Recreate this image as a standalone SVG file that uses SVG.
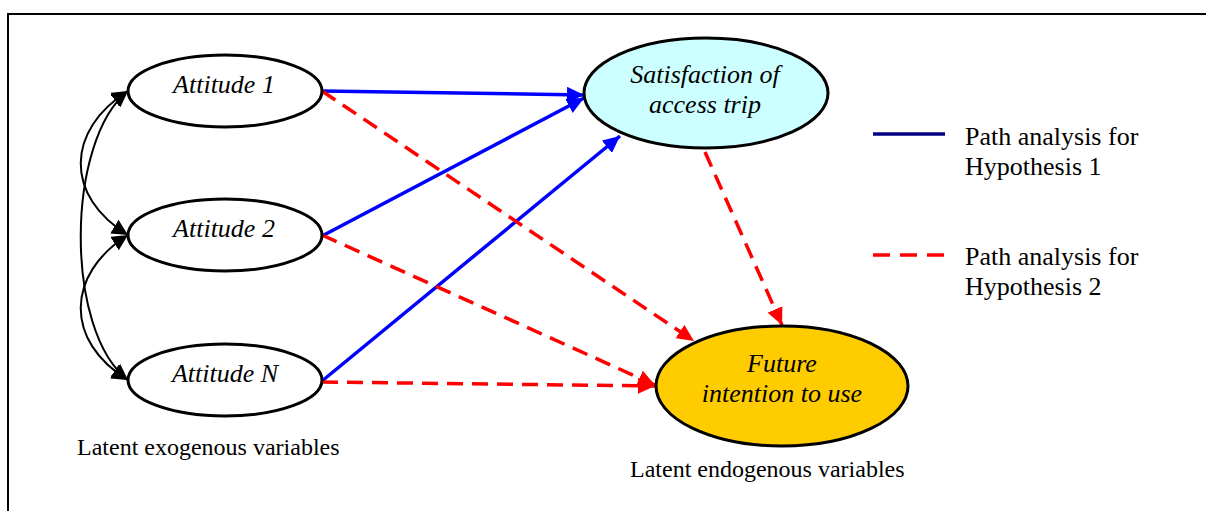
<svg xmlns="http://www.w3.org/2000/svg" width="1206" height="511" viewBox="0 0 1206 511">
  <style>
    .node { stroke: #000; stroke-width: 3; }
    .nlabel { font-family: "Liberation Serif", "Times New Roman", serif; font-style: italic; font-size: 26px; fill: #000; text-anchor: middle; }
    .cap { font-family: "Liberation Serif", "Times New Roman", serif; font-size: 24px; fill: #000; }
    .legend { font-family: "Liberation Serif", "Times New Roman", serif; font-size: 26px; fill: #000; }
    .h1 { fill: none; stroke: #0000FF; stroke-width: 3.5; marker-end: url(#arrowBlue); }
    .h2 { fill: none; stroke: #FF0000; stroke-width: 3.5; stroke-dasharray: 16 9; marker-end: url(#arrowRed); }
    .cov { fill: none; stroke: #000; stroke-width: 2; marker-start: url(#arrowBlack); marker-end: url(#arrowBlack); }
  </style>
  <defs>
    <marker id="arrowBlue" markerUnits="userSpaceOnUse" markerWidth="18" markerHeight="16" refX="17" refY="8" orient="auto">
      <path d="M0,0 L17,8 L0,16 z" fill="#0000FF"/>
    </marker>
    <marker id="arrowRed" markerUnits="userSpaceOnUse" markerWidth="18" markerHeight="16" refX="17" refY="8" orient="auto">
      <path d="M0,0 L17,8 L0,16 z" fill="#FF0000"/>
    </marker>
    <marker id="arrowBlack" markerUnits="userSpaceOnUse" markerWidth="17" markerHeight="16" refX="16" refY="8" orient="auto-start-reverse">
      <path d="M0,0 L16,8 L0,16 z" fill="#000"/>
    </marker>
  </defs>

  <rect width="1206" height="511" fill="#fff"/>
  <!-- outer frame, open to the right and bottom -->
  <rect x="8" y="14" width="1220" height="520" fill="none" stroke="#000" stroke-width="2"/>

  <!-- connectors -->
  <g id="connectors">
    <!-- covariances among attitudes -->
    <path class="cov" d="M128,91 C66,130 64,196 128,235"/>
    <path class="cov" d="M128,235 C66,274 64,341 128,380"/>
    <path class="cov" d="M128,91 C66,140 64,331 128,380"/>
    <!-- hypothesis 1 paths -->
    <path class="h1" d="M322,91 L584,95"/>
    <path class="h1" d="M322,236 L584,98"/>
    <path class="h1" d="M322,381 L620,136"/>
    <!-- hypothesis 2 paths -->
    <path class="h2" d="M322,91 L694,341"/>
    <path class="h2" d="M322,235 L655,385"/>
    <path class="h2" d="M322,382 L655,386"/>
    <path class="h2" d="M705,152 L782,325"/>
  </g>

  <g id="attitude1">
    <ellipse class="node" cx="225" cy="91" rx="97" ry="36" fill="#fff"/>
    <text class="nlabel" x="224" y="93">Attitude 1</text>
  </g>
  <g id="attitude2">
    <ellipse class="node" cx="225" cy="235" rx="97" ry="36" fill="#fff"/>
    <text class="nlabel" x="224" y="237">Attitude 2</text>
  </g>
  <g id="attitudeN">
    <ellipse class="node" cx="225" cy="380" rx="97" ry="36" fill="#fff"/>
    <text class="nlabel" x="225" y="382">Attitude N</text>
  </g>
  <g id="satisfaction">
    <ellipse class="node" cx="706" cy="93" rx="122" ry="55" fill="#CCFFFF"/>
    <text class="nlabel" x="705" y="83">Satisfaction of</text>
    <text class="nlabel" x="705" y="113">access trip</text>
  </g>
  <g id="intention">
    <ellipse class="node" cx="782" cy="386" rx="126" ry="60" fill="#FFCC00"/>
    <text class="nlabel" x="782" y="372">Future</text>
    <text class="nlabel" x="782" y="402">intention to use</text>
  </g>

  <g id="captions">
    <text class="cap" x="77" y="455">Latent exogenous variables</text>
    <text class="cap" x="630" y="477">Latent endogenous variables</text>
  </g>

  <g id="legend">
    <line x1="873" y1="134" x2="945" y2="134" stroke="#000080" stroke-width="3.5"/>
    <text class="legend" x="965" y="145">Path analysis for</text>
    <text class="legend" x="965" y="175">Hypothesis 1</text>
    <line x1="873" y1="255" x2="945" y2="255" stroke="#FF0000" stroke-width="3.5" stroke-dasharray="17 10"/>
    <text class="legend" x="965" y="265">Path analysis for</text>
    <text class="legend" x="965" y="295">Hypothesis 2</text>
  </g>
</svg>
